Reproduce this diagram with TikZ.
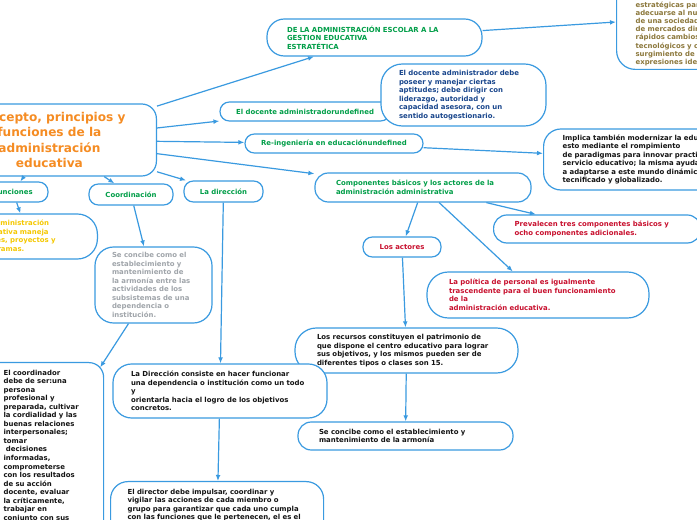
\documentclass[tikz,border=0pt]{standalone}
\usepackage{fontspec}
\setsansfont{DejaVu Sans}
\usetikzlibrary{arrows.meta}
\definecolor{bcol}{RGB}{58,154,224}
\definecolor{tgreen}{RGB}{0,158,72}
\definecolor{tred}{RGB}{200,16,46}
\definecolor{tyellow}{RGB}{245,200,0}
\definecolor{tgrey}{RGB}{160,165,170}
\definecolor{tnavy}{RGB}{25,70,140}
\definecolor{tolive}{RGB}{140,120,60}
\definecolor{torange}{RGB}{245,140,35}
\definecolor{tblack}{RGB}{20,20,20}
\begin{document}
\begin{tikzpicture}[x=0.75pt,y=-0.75pt,
  bx/.style={draw=bcol, line width=0.9pt, fill=white, inner ysep=0pt, align=left,
    font=\sffamily\bfseries\fontsize{5.2}{6.4}\selectfont},
  small/.style={bx, align=center, inner xsep=0pt, rounded corners=7pt},
  arr/.style={draw=bcol, line width=0.9pt, -{Latex[length=4.5pt,width=3.6pt]}}]
\useasboundingbox (0,0) rectangle (697,520);
\fill[white] (0,0) rectangle (697,520);
\clip (0,0) rectangle (697,520);

% main
\node[bx, anchor=east, minimum width=160.5pt, minimum height=54pt, rounded corners=11pt,
  align=center, text=torange, inner xsep=0pt,
  font=\sffamily\bfseries\fontsize{9.1}{11.5}\selectfont] (main) at (157,140)
  {Concepto, principios y\\funciones de la\\administración\\educativa};

% top
\node[bx, text width=131.25pt, inner xsep=15pt, minimum height=27.75pt, rounded corners=13pt, text=tgreen]
  (gest) at (374.5,37.5) {DE LA ADMINISTRACIÓN ESCOLAR A LA\\GESTION EDUCATIVA\\ESTRATÉTICA};
\node[bx, anchor=south west, text width=109.5pt, inner xsep=14.25pt, inner ysep=2.5pt,
  text height=60pt, rounded corners=14pt, text=tolive,
  font=\sffamily\bfseries\fontsize{5.2}{6.15}\selectfont] (estr) at (616,70)
  {estratégicas para\\adecuarse al nuevo entorno\\de una sociedad\\de mercados dinámicos,\\rápidos cambios\\tecnológicos y culturales,\\surgimiento de nuevas\\expresiones ideológicas.};

\node[small, minimum width=127.5pt, minimum height=14.25pt, text=tgreen] (doc) at (305,111.5)
  {El docente administradorundefined};
\node[bx, text width=96.75pt, inner xsep=13.5pt, minimum height=46.5pt, rounded corners=16pt, text=tnavy]
  (docd) at (463.5,95) {El docente administrador debe\\poseer y manejar ciertas\\aptitudes; debe dirigir con\\liderazgo, autoridad y\\capacidad asesora, con un\\sentido autogestionario.};

\node[small, minimum width=133.5pt, minimum height=14.25pt, text=tgreen] (reing) at (334,143.5)
  {Re-ingeniería en educaciónundefined};
\node[bx, anchor=west, text width=166.5pt, inner xsep=14.25pt, minimum height=45.75pt, rounded corners=13pt, text=tblack]
  (impl) at (543,159.5) {Implica también modernizar la educación,\\esto mediante el rompimiento\\de paradigmas para innovar practicas del\\servicio educativo; la misma ayudará\\a adaptarse a este mundo dinámico,\\tecnificado y globalizado.};

\node[bx, text width=130.5pt, inner xsep=15.75pt, minimum height=21.75pt, rounded corners=10pt, text=tgreen]
  (comp) at (423,187.5) {Componentes básicos y los actores de la\\administración administrativa};
\node[bx, anchor=west, text width=123.75pt, inner xsep=15.75pt, minimum height=21pt, rounded corners=10pt, text=tred]
  (prev) at (493,229) {Prevalecen tres componentes básicos y\\ocho componentes adicionales.};
\node[small, minimum width=58.5pt, minimum height=15pt, text=tred] (act) at (402,247) {Los actores};
\node[bx, text width=133.5pt, inner xsep=16.5pt, minimum height=34.5pt, rounded corners=16pt, text=tred]
  (pol) at (538,295) {La política de personal es igualmente\\trascendente para el buen funcionamiento\\de la\\administración educativa.};
\node[bx, text width=134.25pt, inner xsep=16.5pt, minimum height=33.75pt, rounded corners=16pt, text=tblack]
  (rec) at (406.5,350.5) {Los recursos constituyen el patrimonio de\\que dispone el centro educativo para lograr\\sus objetivos, y los mismos pueden ser de\\diferentes tipos o clases son 15.};
\node[bx, text width=129.75pt, inner xsep=15.75pt, minimum height=21pt, rounded corners=10pt, text=tblack]
  (conc) at (405.5,436) {Se concibe como el establecimiento y\\mantenimiento de la armonía};

% left side
\node[small, minimum width=52.5pt, minimum height=15pt, text=tgreen] (fun) at (13,192) {Funciones};
\node[bx, anchor=east, text width=73.5pt, inner xsep=15pt, minimum height=33.75pt, rounded corners=15pt, text=tyellow]
  (adm) at (98,236.5) {La administración\\educativa maneja\\planes, proyectos y\\programas.};
\node[small, minimum width=63pt, minimum height=15.75pt, text=tgreen] (coord) at (131,194.5) {Coordinación};
\node[small, minimum width=59.25pt, minimum height=15.75pt, text=tgreen] (dir) at (223.5,191.5) {La dirección};
\node[bx, text width=62.25pt, inner xsep=12.75pt, minimum height=57pt, rounded corners=14pt, text=tgrey]
  (grey) at (153.5,285) {Se concibe como el\\establecimiento y\\mantenimiento de\\la armonía entre las\\actividades de los\\subsistemas de una\\dependencia o\\institución.};
\node[bx, anchor=north west, text width=61.5pt, inner xsep=13.5pt, inner ysep=5.5pt, text depth=130pt,
  rounded corners=11pt, text=tblack] (bl) at (-15,362)
  {El coordinador\\debe de ser:una\\persona\\profesional y\\preparada, cultivar\\la cordialidad y las\\buenas relaciones\\interpersonales;\\tomar\\\ decisiones\\informadas,\\comprometerse\\con los resultados\\de su acción\\docente, evaluar\\la críticamente,\\trabajar en\\conjunto con sus};
\node[bx, text width=133.5pt, inner xsep=13.5pt, minimum height=40.5pt, rounded corners=14pt, text=tblack]
  (dcons) at (220,391) {La Dirección consiste en hacer funcionar\\una dependencia o institución como un todo\\y\\orientarla hacia el logro de los objetivos\\concretos.};
\node[bx, anchor=north west, text width=134.25pt, inner xsep=12.75pt, inner ysep=5.5pt, text depth=40pt,
  rounded corners=13pt, text=tblack] (dimp) at (110,481)
  {El director debe impulsar, coordinar y\\vigilar las acciones de cada miembro o\\grupo para garantizar que cada uno cumpla\\con las funciones que le pertenecen, el es el};

% connectors
\draw[arr] (main) -- (gest);
\draw[arr] (gest) -- ([yshift=36pt]estr.south west);
\draw[arr] (main) -- (doc);
\draw[arr] (main) -- (reing);
\draw[arr] (reing) -- (impl);
\draw[arr] (main) -- (comp);
\draw[arr] (comp) -- (prev);
\draw[arr] (comp) -- (act);
\draw[arr] (comp) -- (pol);
\draw[arr] (act) -- (rec);
\draw[arr] (rec) -- (conc);
\draw[arr] (main) -- (fun);
\draw[arr] (fun) -- (adm);
\draw[arr] (main) -- (coord);
\draw[arr] (main) -- (dir);
\draw[arr] (coord) -- (grey);
\draw[arr] (grey) -- ([xshift=-3pt,yshift=-4pt]bl.north east);
\draw[arr] (dir) -- (dcons);
\draw[arr] (dcons) -- (dimp);
\end{tikzpicture}
\end{document}
